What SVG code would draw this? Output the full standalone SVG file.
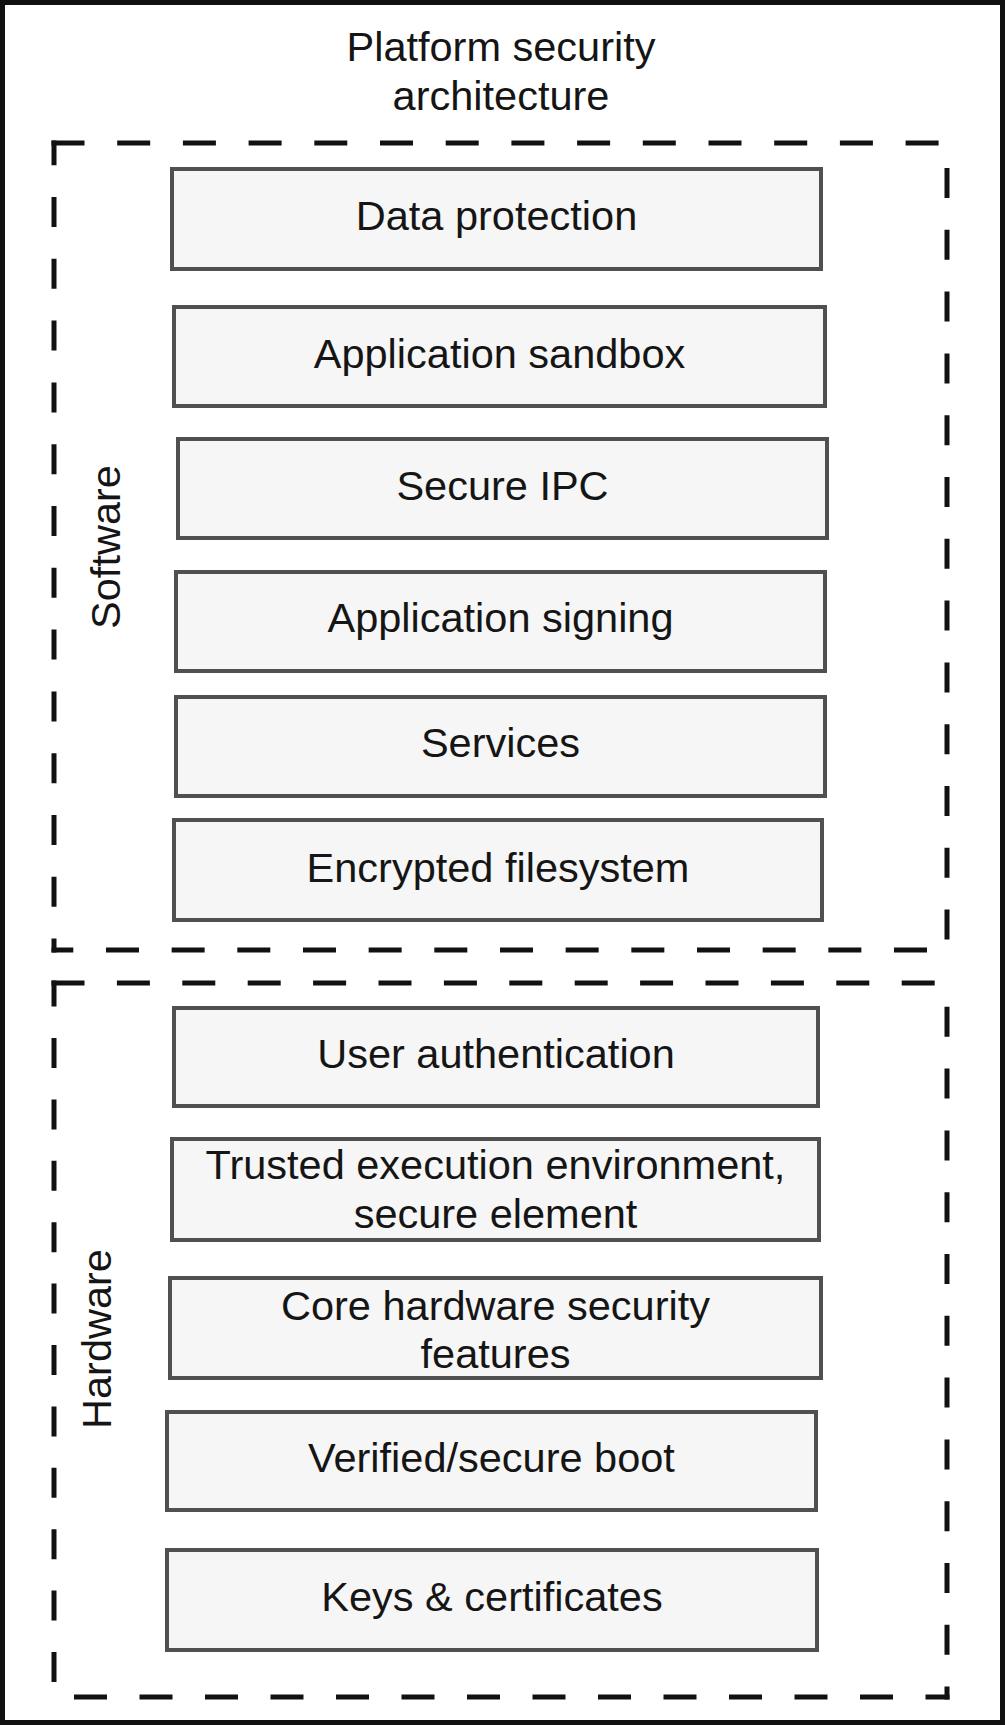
<svg xmlns="http://www.w3.org/2000/svg" width="1005" height="1725" viewBox="0 0 1005 1725">
<style>
.t{font-family:"Liberation Sans",Arial,sans-serif;font-size:41.5px;fill:#151515;text-anchor:middle}
.box{fill:#f6f6f6;stroke:#505050;stroke-width:4}
.dash{fill:none;stroke:#111;stroke-width:5;stroke-linecap:butt}
</style>
<rect x="0" y="0" width="1005" height="1725" fill="#ffffff"/>
<rect x="2.5" y="2.5" width="1000" height="1720" fill="none" stroke="#111" stroke-width="5"/>
<g id="title"><text class="t" x="501" y="61">Platform security</text><text class="t" x="501" y="110">architecture</text></g>
<g id="software-group">
<line class="dash" x1="51.5" y1="143" x2="947" y2="143" stroke-dasharray="33 32.7"/>
<line class="dash" x1="54" y1="140.5" x2="54" y2="952.5" stroke-dasharray="30 31.8" stroke-dashoffset="5.3"/>
<line class="dash" x1="947" y1="143" x2="947" y2="950" stroke-dasharray="30 31.8" stroke-dashoffset="36.8"/>
<line class="dash" x1="51.5" y1="950" x2="947" y2="950" stroke-dasharray="33 32.67" stroke-dashoffset="11.2"/>
<text class="t" transform="translate(120,547) rotate(-90)" x="0" y="0">Software</text>
</g>
<g id="hardware-group">
<line class="dash" x1="51.5" y1="983" x2="947" y2="983" stroke-dasharray="33 32.4"/>
<line class="dash" x1="54" y1="980.5" x2="54" y2="1697" stroke-dasharray="30 31.4" stroke-dashoffset="3.9"/>
<line class="dash" x1="947" y1="983" x2="947" y2="1699.5" stroke-dasharray="30 31.8" stroke-dashoffset="38"/>
<line class="dash" x1="54" y1="1697" x2="949.5" y2="1697" stroke-dasharray="33 32.5" stroke-dashoffset="45.5"/>
<text class="t" transform="translate(111,1339) rotate(-90)" x="0" y="0">Hardware</text>
</g>
<g id="data-protection"><rect class="box" x="172" y="169" width="649" height="100"/><text class="t" x="496.5" y="230">Data protection</text></g>
<g id="application-sandbox"><rect class="box" x="174" y="307" width="651" height="99"/><text class="t" x="499.5" y="368">Application sandbox</text></g>
<g id="secure-ipc"><rect class="box" x="178" y="439" width="649" height="99"/><text class="t" x="502.5" y="500">Secure IPC</text></g>
<g id="application-signing"><rect class="box" x="176" y="572" width="649" height="99"/><text class="t" x="500.5" y="632">Application signing</text></g>
<g id="services"><rect class="box" x="176" y="697" width="649" height="99"/><text class="t" x="500.5" y="757">Services</text></g>
<g id="encrypted-filesystem"><rect class="box" x="174" y="820" width="648" height="100"/><text class="t" x="498" y="882">Encrypted filesystem</text></g>
<g id="user-authentication"><rect class="box" x="174" y="1008" width="644" height="98"/><text class="t" x="496" y="1068">User authentication</text></g>
<g id="trusted-execution"><rect class="box" x="172" y="1139" width="647" height="101"/><text class="t" x="495.5" y="1179">Trusted execution environment,</text><text class="t" x="495.5" y="1228">secure element</text></g>
<g id="core-hardware"><rect class="box" x="170" y="1278" width="651" height="100"/><text class="t" x="495.5" y="1320">Core hardware security</text><text class="t" x="495.5" y="1368">features</text></g>
<g id="verified-boot"><rect class="box" x="167" y="1412" width="649" height="98"/><text class="t" x="491.5" y="1472">Verified/secure boot</text></g>
<g id="keys-certificates"><rect class="box" x="167" y="1550" width="650" height="100"/><text class="t" x="492" y="1611">Keys &amp; certificates</text></g>
</svg>
